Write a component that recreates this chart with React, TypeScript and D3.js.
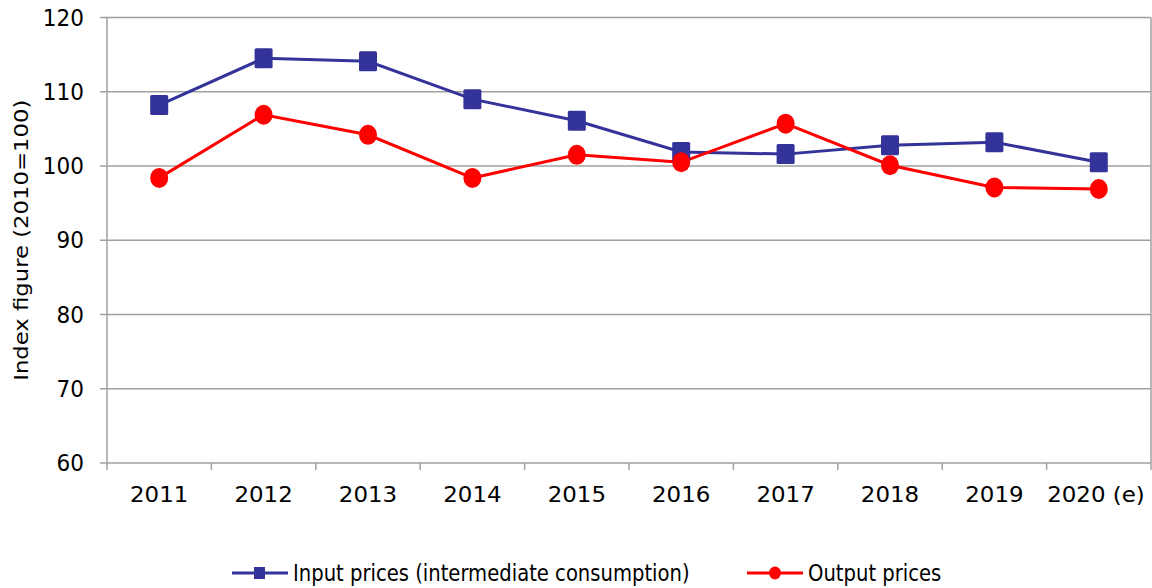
import React from "react";
import * as d3 from "d3";

const years = ["2011", "2012", "2013", "2014", "2015", "2016", "2017", "2018", "2019", "2020 (e)"];
const inputPrices = [108.2, 114.5, 114.1, 109.0, 106.1, 101.9, 101.6, 102.8, 103.2, 100.5];
const outputPrices = [98.4, 106.9, 104.2, 98.4, 101.5, 100.5, 105.7, 100.1, 97.1, 96.9];
const yTicks = [60, 70, 80, 90, 100, 110, 120];
const seriesNames = ["Input prices (intermediate consumption)", "Output prices"];

const W = 1152;
const H = 588;
const left = 107;
const right = 1151;
const top = 17.5;
const bottom = 463;
const FONT = "'DejaVu Sans', Verdana, sans-serif";
const BLUE = "#333399";
const RED = "#ff0000";
const GRID = "#a0a0a0";
const FS = 19.6;
const SY = 1.16;

function T(props: { x: number; y: number; anchor?: string; dy?: string; sx?: number; sy?: number; children: React.ReactNode }) {
  return (
    <text
      transform={`translate(${props.x},${props.y}) scale(${props.sx ?? 1},${props.sy ?? SY})`}
      textAnchor={props.anchor || "start"}
      dy={props.dy}
      fontSize={FS}
      fill="#000"
    >
      {props.children}
    </text>
  );
}

export default function App() {
  const x = d3.scaleBand<string>().domain(years).range([left, right]).padding(0);
  const y = d3.scaleLinear().domain([60, 120]).range([bottom, top]);
  const cx = (d: string) => (x(d) as number) + x.bandwidth() / 2;
  const line = d3
    .line<number>()
    .x((_, i) => cx(years[i]))
    .y((v) => y(v));

  const boundaries = years.map((d) => x(d) as number).concat([right]);

  return (
    <svg
      width={W}
      height={H}
      style={{ position: "absolute", left: 0, top: 0, background: "#fff" }}
      fontFamily={FONT}
    >
      {yTicks.map((t) => (
        <line key={"g" + t} x1={left} x2={right} y1={y(t)} y2={y(t)} stroke={GRID} strokeWidth={1.5} />
      ))}
      {yTicks.map((t) => (
        <line key={"yt" + t} x1={left - 7} x2={left} y1={y(t)} y2={y(t)} stroke={GRID} strokeWidth={1.5} />
      ))}
      <line x1={left} x2={left} y1={top} y2={bottom} stroke={GRID} strokeWidth={1.5} />
      <line x1={right} x2={right} y1={top} y2={bottom} stroke={GRID} strokeWidth={1.5} />
      {boundaries.map((b, i) => (
        <line key={"xt" + i} x1={b} x2={b} y1={bottom} y2={bottom + 7} stroke={GRID} strokeWidth={1.5} />
      ))}
      {yTicks.map((t) => (
        <T key={"yl" + t} x={84} y={y(t)} dy="0.36em" anchor="end" sx={1.1}>
          {t}
        </T>
      ))}
      {years.map((d, i) => (
        <T key={"xl" + d} x={i === years.length - 1 ? 1096 : cx(d)} y={502} anchor="middle" sx={1.17} sy={1.09}>
          {d}
        </T>
      ))}
      <text
        transform={`translate(28, ${(top + bottom) / 2}) scale(1,${SY}) rotate(-90)`}
        textAnchor="middle"
        fontSize={FS}
        fill="#000"
      >
        Index figure (2010=100)
      </text>

      <path d={line(inputPrices) || ""} fill="none" stroke={BLUE} strokeWidth={3} />
      <path d={line(outputPrices) || ""} fill="none" stroke={RED} strokeWidth={3} />
      {inputPrices.map((v, i) => (
        <rect key={"s" + i} x={cx(years[i]) - 9} y={y(v) - 10} width={18} height={20} rx={1.5} fill={BLUE} />
      ))}
      {outputPrices.map((v, i) => (
        <ellipse key={"c" + i} cx={cx(years[i])} cy={y(v)} rx={9} ry={10} fill={RED} />
      ))}

      <g>
        <line x1={232} x2={288} y1={573} y2={573} stroke={BLUE} strokeWidth={3} />
        <rect x={254} y={567} width={11} height={12} fill={BLUE} />
        <T x={293} y={581}>{seriesNames[0]}</T>
        <line x1={747} x2={803} y1={573} y2={573} stroke={RED} strokeWidth={3} />
        <ellipse cx={775} cy={573} rx={6} ry={6.5} fill={RED} />
        <T x={808} y={581}>{seriesNames[1]}</T>
      </g>
    </svg>
  );
}
